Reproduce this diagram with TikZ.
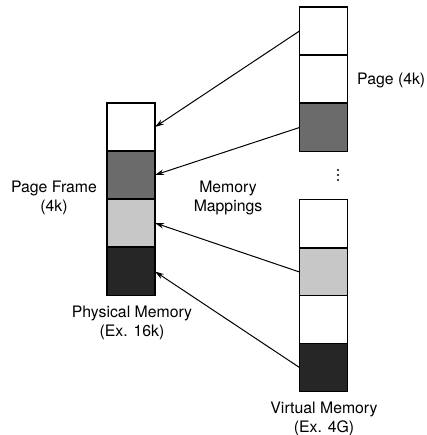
\documentclass[tikz,border=0pt]{standalone}
\usepackage{fontspec}
\setmainfont{TeX Gyre Heros}
\usetikzlibrary{arrows.meta}
\begin{document}
\begin{tikzpicture}[x=1pt,y=-1pt,
  blk/.style={draw=black,line width=1.2pt,minimum width=48pt,minimum height=48pt,inner sep=0pt,outer sep=0pt},
  wfill/.style={blk,fill=white},
  dfill/.style={blk,fill=black!58},
  lfill/.style={blk,fill=black!22},
  bfill/.style={blk,fill=black!85},
  map/.style={line width=1pt,-{Stealth[length=9pt,width=5.5pt]}},
  dotc/.style={circle,fill=black,inner sep=0pt,minimum size=2.2pt},
  lbl/.style={font=\fontsize{15.8}{19}\selectfont,align=center,inner sep=0pt}]
\useasboundingbox (0,0) rectangle (426,435);
% physical memory
\node[wfill] (p1) at (131,127) {};
\node[dfill] (p2) at (131,175) {};
\node[lfill] (p3) at (131,223) {};
\node[bfill] (p4) at (131,271.5) {};
% virtual memory top
\node[wfill] (v1) at (323.5,31) {};
\node[wfill] (v2) at (323.5,79) {};
\node[dfill] (v3) at (323.5,127.5) {};
% virtual memory bottom
\node[wfill] (w1) at (323.5,223.5) {};
\node[lfill] (w2) at (323.5,272) {};
\node[wfill] (w3) at (323.5,319.5) {};
\node[bfill] (w4) at (323.5,367.5) {};
% ellipsis
\node[dotc] (d1) at (338,170) {};
\node[dotc] (d2) at (338,175) {};
\node[dotc] (d3) at (338,180) {};
% mappings
\draw[map] (v1.west) -- (p1.east);
\draw[map] (v3.west) -- (p2.east);
\draw[map] (w2.west) -- (p3.east);
\draw[map] (w4.west) -- (p4.east);
% labels
\node[lbl,anchor=west] (pg) at (357,80) {Page (4k)};
\node[lbl] (pf) at (54,197.5) {Page Frame\\(4k)};
\node[lbl] (mm) at (228,197.5) {Memory\\Mappings};
\node[lbl] (pm) at (132,322.5) {Physical Memory\\(Ex. 16k)};
\node[lbl] (vm) at (324,418.5) {Virtual Memory\\(Ex. 4G)};
\end{tikzpicture}
\end{document}
